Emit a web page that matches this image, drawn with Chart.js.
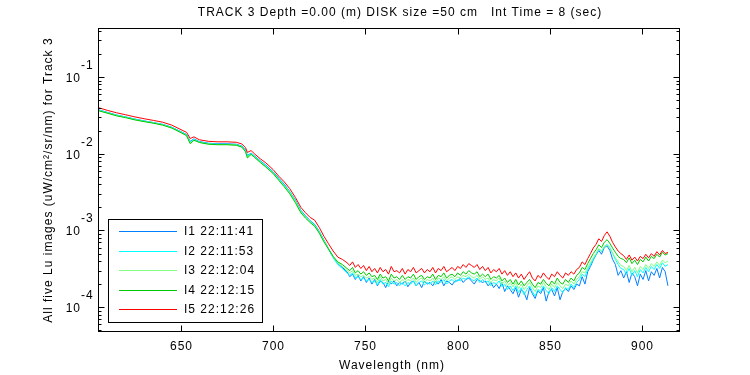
<!DOCTYPE html>
<html>
<head>
<meta charset="utf-8">
<script src="https://cdn.jsdelivr.net/npm/chart.js@4.4.1/dist/chart.umd.min.js"></script>
<style>
  html, body { margin: 0; padding: 0; background: #fff; }
  #wrap { width: 750px; height: 375px; }
</style>
</head>
<body>
<div id="wrap"><canvas id="lu" width="750" height="375"></canvas></div>
<script>
// values are in units of 1e-4 uW/cm^2/sr/nm
var UNIT = 1e-4;

var wavelengths = [605,610,615,620,625,630,635,640,645,650,653,655,657,660,665,670,675,680,683,685,686,688,690,693,696,700,703,706,709,712,
  715,717.5,720,722.5,725,727.5,730,732.5,735,737.5,
  740,741.5,743,744.5,746,747.5,749,750.5,752,753.5,
  755,756.5,758,759.5,761,762.5,764,765.5,767,768.5,
  770,771.5,773,774.5,776,777.5,779,780.5,782,783.5,
  785,786.5,788,789.5,791,792.5,794,795.5,797,798.5,
  800,801.5,803,804.5,806,807.5,809,810.5,812,813.5,
  815,816.5,818,819.5,821,822.5,824,825.5,827,828.5,
  830,831.5,833,834.5,836,837.5,839,840.5,842,843.5,
  845,846.5,848,849.5,851,852.5,854,855.5,857,858.5,
  860,861.5,863,864.5,866,867.5,869,870.5,872,873.5,
  875,876.5,878,879.5,881,882.5,884,885.5,887,888.5,
  890,891.5,893,894.5,896,897.5,899,900.5,902,903.5,
  905,906.5,908,909.5,911,912.5,914];

var seriesNames = ['I1 22:11:41', 'I2 22:11:53', 'I3 22:12:04', 'I4 22:12:15', 'I5 22:12:26'];
var seriesColors = ['rgb(0,128,255)', 'rgb(0,255,255)', 'rgb(128,255,128)', 'rgb(0,200,0)', 'rgb(255,0,0)'];

var i1 = [375,347,320,302,283,268,255,242,222,194,178,145,156,144,137,135,135,133,126,112,95,102,93,81,71,58,48,40,32,25,
  18.3,15.5,13.4,12.0,9.7,7.5,5.8,4.5,3.7,3.3,
  2.9,2.5,2.7,2.3,2.6,2.2,2.5,2.1,2.4,2.0,
  2.3,1.9,2.2,2.1,1.8,2.2,2.0,2.2,1.9,2.1,
  2.0,2.2,1.85,2.1,2.2,1.9,2.1,1.8,2.2,2.0,
  2.1,1.9,2.2,2.0,2.3,1.9,2.2,2.1,1.95,2.2,
  2.2,2.4,2.1,2.3,2.4,2.2,2.0,2.3,2.2,2.1,
  2.2,1.9,2.1,1.8,2.0,1.75,2.1,1.6,1.9,1.7,
  1.5,1.8,1.35,1.7,1.55,1.25,1.8,1.5,1.3,1.65,
  1.5,1.8,1.2,1.6,1.7,1.4,1.8,1.25,1.6,1.75,
  1.6,1.9,1.7,2.0,1.9,2.5,2.0,2.9,3.4,4.1,
  4.8,5.5,4.9,6.0,6.3,5.5,4.2,3.6,2.6,3.0,
  2.4,2.9,2.1,2.8,2.5,1.9,2.7,2.3,3.0,2.2,
  2.9,2.6,3.2,2.4,3.3,2.9,1.9];

var i2 = [372,344,318,300,281,266,253,240,220,192,176,142,154,142,135,133,133,131,125,110,93,101,92,80,70,57,47,39,32,24.5,
  18,15.2,13.2,11.8,9.6,7.4,5.7,4.4,3.6,3.2,
  2.8,2.6,2.8,2.4,2.5,2.3,2.4,2.2,2.3,2.1,
  2.2,1.95,2.3,2.0,2.1,1.85,2.2,2.0,2.1,1.9,
  2.1,1.9,2.1,2.0,2.2,1.9,2.1,2.2,1.95,2.1,
  2.0,2.2,1.95,2.2,2.1,2.3,2.0,2.2,2.3,2.1,
  2.3,2.2,2.4,2.3,2.5,2.3,2.2,2.4,2.1,2.3,
  2.1,2.2,1.9,2.1,2.0,2.2,1.85,2.0,1.7,1.9,
  1.65,1.9,1.55,1.8,1.45,1.7,1.9,1.6,1.4,1.7,
  1.6,1.9,1.65,1.5,1.8,1.6,1.9,1.7,1.55,1.8,
  1.7,2.0,1.8,2.1,2.3,2.7,2.5,3.1,3.6,4.2,
  4.9,5.7,5.3,6.1,6.6,6.0,5.0,4.2,3.6,3.2,
  3.1,2.7,3.2,2.6,3.0,2.5,3.1,2.8,3.3,2.9,
  3.4,3.1,3.6,3.2,3.8,3.4,3.6];

var i3 = [368,340,315,297,278,264,252,238,218,190,174,138,151,141,134,132,132,130,123,107,90,99,90,78,68,56,46,38,31,24,
  17.5,15,13.0,11.5,9.4,7.3,5.8,4.5,3.8,3.4,
  3.0,2.8,3.0,2.6,2.7,2.5,2.6,2.4,2.5,2.3,
  2.4,2.1,2.5,2.2,2.3,2.0,2.4,2.2,2.3,2.1,
  2.3,2.1,2.3,2.2,2.4,2.1,2.3,2.4,2.1,2.3,
  2.2,2.4,2.1,2.4,2.3,2.5,2.2,2.4,2.5,2.3,
  2.5,2.4,2.6,2.5,2.7,2.5,2.4,2.6,2.3,2.5,
  2.3,2.4,2.1,2.3,2.2,2.4,2.0,2.2,1.9,2.1,
  1.85,2.1,1.75,2.0,1.7,1.9,2.1,1.8,1.6,1.9,
  1.8,2.1,1.85,1.7,2.0,1.8,2.1,1.9,1.75,2.0,
  1.9,2.2,2.0,2.3,2.5,2.9,2.8,3.3,3.8,4.4,
  5.0,5.8,5.4,6.2,6.4,5.9,5.1,4.4,3.9,3.5,
  3.4,3.0,3.5,2.9,3.3,2.8,3.4,3.1,3.6,3.2,
  3.7,3.4,3.9,3.5,4.1,3.8,4.0];

var i4 = [365,338,312,295,276,262,250,236,216,188,172,135,150,140,133,131,131,129,122,106,88,98,89,77,67,55,45,37,30,23,
  17,14.5,12.7,11.3,9.2,7.1,5.7,4.6,3.9,3.6,
  3.2,3.0,3.3,2.8,3.0,2.7,2.9,2.6,2.8,2.5,
  2.6,2.3,2.7,2.4,2.5,2.2,2.7,2.4,2.5,2.3,
  2.6,2.3,2.5,2.4,2.7,2.3,2.5,2.6,2.3,2.5,
  2.4,2.7,2.3,2.6,2.5,2.8,2.4,2.6,2.7,2.5,
  2.8,2.6,2.9,2.7,3.0,2.8,2.7,2.9,2.5,2.7,
  2.5,2.7,2.3,2.5,2.4,2.6,2.2,2.4,2.1,2.3,
  2.0,2.3,1.95,2.2,1.9,2.1,2.3,2.0,1.8,2.1,
  2.0,2.3,2.05,1.9,2.2,2.0,2.4,2.1,2.0,2.3,
  2.1,2.4,2.2,2.6,2.8,3.3,3.1,3.7,4.3,5.0,
  5.6,6.5,6.0,7.0,7.6,6.8,5.9,5.2,4.6,4.3,
  4.2,3.8,4.4,3.7,4.1,3.6,4.2,3.9,4.5,4.0,
  4.6,4.3,4.9,4.5,5.2,4.8,5.0];

var i5 = [400,368,342,322,302,286,272,258,236,206,190,158,166,152,145,143,143,141,134,120,104,110,99,86,76,62,51,43,35,27,
  20,17,14.8,13.6,10.9,8.4,6.7,5.4,4.5,4.2,
  3.8,3.5,3.9,3.3,3.6,3.2,3.5,3.0,3.4,2.9,
  3.2,2.8,3.3,2.9,3.1,2.7,3.4,2.9,3.0,2.8,
  3.2,2.7,3.1,2.9,3.3,2.8,3.0,3.2,2.8,3.1,
  2.9,3.3,2.8,3.2,3.0,3.4,2.9,3.1,3.3,3.0,
  3.4,3.2,3.6,3.3,3.7,3.5,3.3,3.6,3.1,3.4,
  3.0,3.3,2.8,3.1,2.9,3.2,2.7,3.0,2.6,2.9,
  2.5,2.8,2.4,2.7,2.3,2.6,2.9,2.4,2.2,2.6,
  2.4,2.8,2.5,2.3,2.7,2.5,2.9,2.6,2.4,2.8,
  2.6,2.9,2.7,3.1,3.3,3.9,3.6,4.3,5.0,5.9,
  6.6,7.8,7.2,8.6,9.6,8.4,7.0,6.1,5.4,5.0,
  4.7,4.2,4.8,4.1,4.5,4.0,4.6,4.3,4.9,4.4,
  5.0,4.6,5.3,4.8,5.5,5.0,5.2];

var xTicks = [650, 700, 750, 800, 850, 900];
var yDecades = [-5, -4, -3, -2, -1];
var titleText = 'TRACK 3 Depth =0.00 (m) DISK size =50 cm   Int Time = 8 (sec)';
var xTitle = 'Wavelength (nm)';
var yTitle = 'All five Lu images (uW/cm\u00b2/sr/nm) for Track 3';

var FONT = '12px "Liberation Sans", Arial, sans-serif';

var allSeries = [i1, i2, i3, i4, i5];
var datasets = [];
for (var s = 0; s < allSeries.length; s++) {
  var pts = [];
  for (var k = 0; k < wavelengths.length; k++) {
    pts.push({x: wavelengths[k], y: allSeries[s][k] * UNIT});
  }
  datasets.push({
    label: seriesNames[s],
    data: pts,
    borderColor: seriesColors[s],
    backgroundColor: seriesColors[s],
    borderWidth: 1,
    pointRadius: 0,
    tension: 0,
    fill: false,
    order: allSeries.length - s   // last series (red) on top
  });
}

var matlabFrame = {
  id: 'matlabFrame',
  afterDatasetsDraw: function(chart) {
    var ctx = chart.ctx, a = chart.chartArea;
    var xs = chart.scales.x, ys = chart.scales.y;
    var L = Math.round(a.left) + 0.5, R = Math.round(a.right) + 0.5;
    var T = Math.round(a.top) + 0.5, B = Math.round(a.bottom) + 0.5;
    ctx.save();
    ctx.strokeStyle = '#000';
    ctx.lineWidth = 1;
    ctx.fillStyle = '#000';
    ctx.font = FONT;
    ctx.letterSpacing = '1px';

    // box
    ctx.strokeRect(L, T, R - L, B - T);

    // x ticks (inside, top and bottom) + labels
    ctx.textAlign = 'center';
    ctx.textBaseline = 'middle';
    xTicks.forEach(function(v) {
      var px = Math.round(xs.getPixelForValue(v)) + 0.5;
      ctx.beginPath();
      ctx.moveTo(px, B); ctx.lineTo(px, B - 6);
      ctx.moveTo(px, T); ctx.lineTo(px, T + 6);
      ctx.stroke();
      ctx.fillText(String(v), px, 347);
    });

    // y ticks, major and minor
    yDecades.forEach(function(d) {
      for (var m = 1; m <= 9; m++) {
        var v = m * Math.pow(10, d);
        if (v < ys.min || v > ys.max) continue;
        var py = Math.round(ys.getPixelForValue(v)) + 0.5;
        var len = (m === 1) ? 6 : 3;
        ctx.beginPath();
        ctx.moveTo(L, py); ctx.lineTo(L + len, py);
        ctx.moveTo(R, py); ctx.lineTo(R - len, py);
        ctx.stroke();
        if (m === 1) {
          ctx.textAlign = 'right';
          ctx.textBaseline = 'middle';
          ctx.fillText('10', 81, py + 1);
          ctx.textAlign = 'left';
          ctx.fillText(String(d), 81, py - 12);
        }
      }
    });

    // legend
    var lx = 108.5, ly = 219.5, lw = 154, lh = 103;
    ctx.fillStyle = '#fff';
    ctx.fillRect(lx, ly, lw, lh);
    ctx.strokeStyle = '#000';
    ctx.strokeRect(lx, ly, lw, lh);
    var rows = [231, 251, 270, 290, 309];
    ctx.textAlign = 'left';
    ctx.textBaseline = 'middle';
    for (var s = 0; s < seriesNames.length; s++) {
      ctx.strokeStyle = seriesColors[s];
      ctx.beginPath();
      ctx.moveTo(119, rows[s] + 0.5); ctx.lineTo(177, rows[s] + 0.5);
      ctx.stroke();
      ctx.fillStyle = '#000';
      ctx.fillText(seriesNames[s], 184, rows[s] + 1);
    }

    // titles
    ctx.fillStyle = '#000';
    ctx.textAlign = 'center';
    ctx.fillText(titleText, 400, 13);
    ctx.fillText(xTitle, 392, 366);
    ctx.translate(49, 180);
    ctx.rotate(-Math.PI / 2);
    ctx.fillText(yTitle, 0, 0);
    ctx.restore();
  }
};

new Chart(document.getElementById('lu'), {
  type: 'line',
  data: { datasets: datasets },
  options: {
    responsive: false,
    animation: false,
    devicePixelRatio: 1,
    layout: { padding: { left: 98, top: 28, right: 71, bottom: 44 } },
    scales: {
      x: { type: 'linear', min: 605, max: 920, display: false },
      y: { type: 'logarithmic', min: 4.9e-5, max: 0.435, display: false }
    },
    plugins: {
      legend: { display: false },
      tooltip: { enabled: false },
      title: { display: false }
    }
  },
  plugins: [matlabFrame]
});
</script>
</body>
</html>
